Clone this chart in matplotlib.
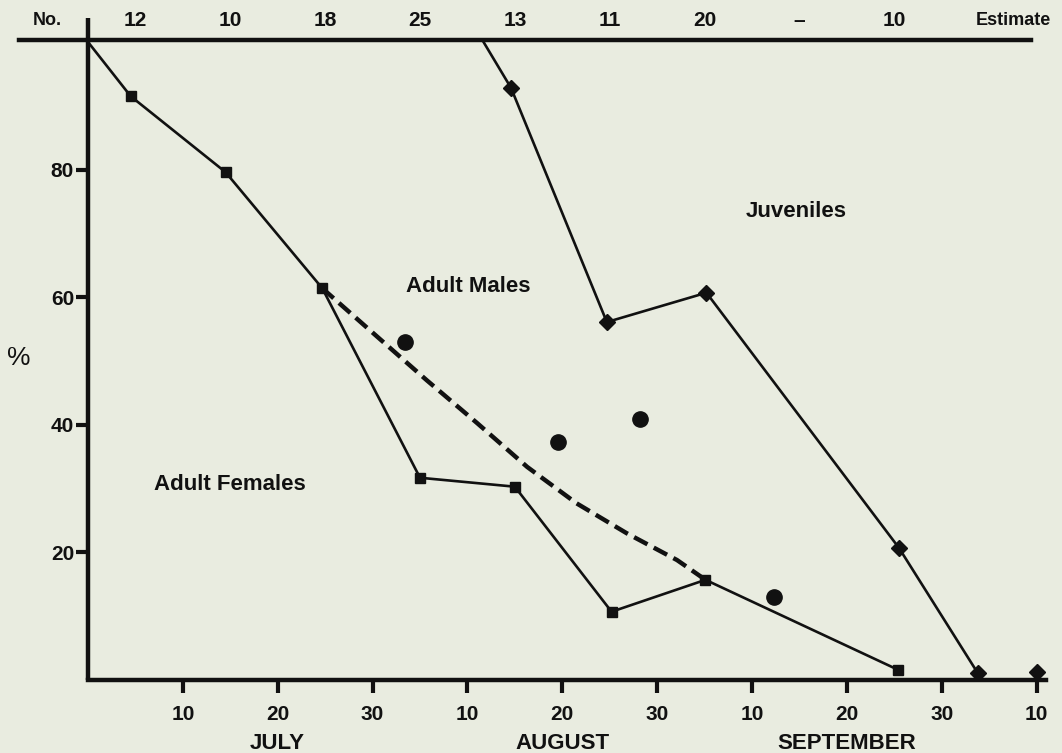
import matplotlib
matplotlib.use('Agg')
import matplotlib.pyplot as plt

# x is days from 30 June, drawn on an even 10-day grid as in the original
tick_days = [10, 20, 30, 40, 50, 60, 70, 80, 90, 100]
tick_labels = ['10', '20', '30', '10', '20', '30', '10', '20', '30', '10']
months = ['JULY', 'AUGUST', 'SEPTEMBER']
month_days = [20, 50, 80]

# sample counts shown along the top
count_days = [5, 15, 25, 35, 45, 55, 65, 75, 85]
counts = ['12', '10', '18', '25', '13', '11', '20', '–', '10']

# adult females / adult males boundary (squares)
fem_days = [0, 4.5, 14.5, 24.7, 35, 45, 55.2, 65.1, 85.4]
fem_pct = [100, 91.5, 79.6, 61.4, 31.7, 30.3, 10.7, 15.7, 1.6]

# smoothed boundary (dashed)
smooth_days = [24.7, 30.5, 35.7, 41.0, 46.3, 51.5, 56.8, 62.1, 65.1]
smooth_pct = [61.4, 53.8, 47.0, 40.3, 33.4, 27.7, 23.0, 18.8, 15.7]

# adult males / juveniles boundary (diamonds)
juv_days = [41.7, 44.6, 54.7, 65.2, 85.5, 93.8]
juv_pct = [100, 92.8, 56.1, 60.7, 20.7, 1.1]
est_day = [100]
est_pct = [1.3]

# single points
dot_days = [33.4, 49.6, 58.2, 72.3]
dot_pct = [53.0, 37.3, 40.9, 13.0]

bg = '#e9ece0'
ink = '#111111'
plt.rcParams['font.family'] = ['Liberation Sans', 'DejaVu Sans']

fig = plt.figure(figsize=(10.62, 7.53), dpi=100, facecolor=bg)
ax = fig.add_axes([88/1062, 1-680/753, (1046-88)/1062, (680-42)/753])
ax.set_facecolor(bg)
ax.set_xlim(0, 101)
ax.set_ylim(0, 100)

for s in ['top', 'right', 'left']:
    ax.spines[s].set_visible(False)
ax.spines['bottom'].set_linewidth(3.2)
ax.spines['bottom'].set_color(ink)

# y axis line runs up past the top rule; top rule runs across the page
ax.plot([0, 0], [0, 1.038], transform=ax.transAxes, color=ink, lw=3.2,
        clip_on=False, solid_capstyle='butt')
ax.plot([-0.072, 0.984], [1.003, 1.003], transform=ax.transAxes, color=ink,
        lw=3.2, clip_on=False)

ax.set_xticks(tick_days)
ax.set_xticklabels(tick_labels)
ax.set_yticks([20, 40, 60, 80])
ax.set_yticklabels(['20', '40', '60', '80'])
ax.tick_params(axis='x', direction='out', length=9, width=3, pad=9,
               labelsize=15, colors=ink)
ax.tick_params(axis='y', direction='out', length=9, width=3, pad=1,
               labelsize=15, colors=ink)
for lab in ax.get_xticklabels() + ax.get_yticklabels():
    lab.set_fontweight('bold')

lw = 1.9
ax.plot(fem_days, fem_pct, color=ink, lw=lw, marker='s', ms=6.5,
        markevery=list(range(1, len(fem_days))), clip_on=False)
ax.plot(smooth_days, smooth_pct, color=ink, lw=3.2, ls=(0, (3.4, 1.6)))
ax.plot(juv_days, juv_pct, color=ink, lw=lw, marker='D', ms=8.5,
        markevery=list(range(1, len(juv_days))), clip_on=False)
ax.plot(est_day, est_pct, color=ink, ls='none', marker='D', ms=8.5, clip_on=False)
ax.plot(dot_days, dot_pct, color=ink, ls='none', marker='o', ms=11)

# top row of sample sizes
ytop = 103.4
ax.text(-4.3, ytop, 'No.', ha='center', va='center', fontsize=13,
        fontweight='bold', color=ink, clip_on=False)
for d, c in zip(count_days, counts):
    ax.text(d, ytop, c, ha='center', va='center', fontsize=15,
            fontweight='bold', color=ink, clip_on=False)
ax.text(97.6, ytop, 'Estimate', ha='center', va='center', fontsize=13,
        fontweight='bold', color=ink, clip_on=False)

for d, m in zip(month_days, months):
    ax.text(d, -9.9, m, ha='center', va='center', fontsize=16,
            fontweight='bold', color=ink, clip_on=False)

ax.text(-7.3, 50.5, '%', ha='center', va='center', fontsize=19, color=ink,
        clip_on=False)

ax.text(40.1, 61.6, 'Adult Males', ha='center', va='center', fontsize=16,
        fontweight='bold', color=ink)
ax.text(15.0, 30.6, 'Adult Females', ha='center', va='center', fontsize=16,
        fontweight='bold', color=ink)
ax.text(74.7, 73.4, 'Juveniles', ha='center', va='center', fontsize=16,
        fontweight='bold', color=ink)

fig.savefig('out.png', dpi=100, facecolor=bg)
